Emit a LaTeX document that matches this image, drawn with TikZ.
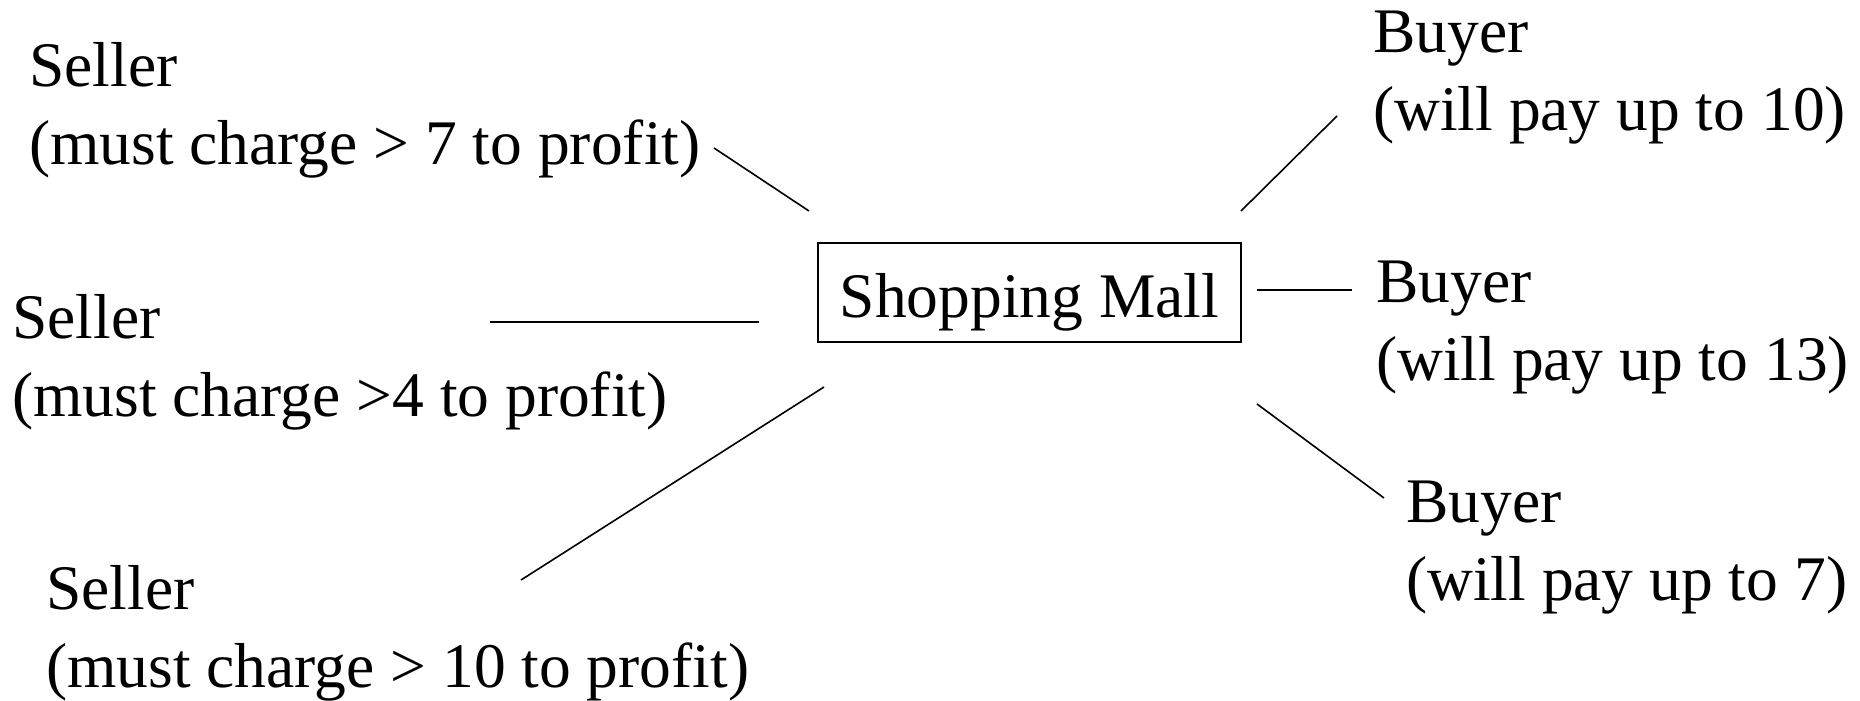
\documentclass[tikz,border=0pt]{standalone}
\usepackage{fontspec}
\setmainfont{Liberation Serif}
\begin{document}
\begin{tikzpicture}[x=1pt,y=-1pt,
  lbl/.style={anchor=base west,inner sep=0pt,align=left,font=\fontsize{63.5}{77.5}\selectfont},
  conn/.style={line width=1.6pt},
  mall/.style={draw,line width=1.8pt,inner xsep=22pt,inner ysep=0pt,text height=74pt,text depth=25pt,font=\fontsize{63.5}{77}\selectfont}]
\useasboundingbox (0,0) rectangle (1860,701);
\node[lbl] (s1) at (29,164) {Seller\\(must charge > 7 to profit)};
\node[lbl] (s2) at (12,416) {Seller\\(must charge >4 to profit)};
\node[lbl] (s3) at (46,687) {Seller\\(must charge > 10 to profit)};
\node[mall,anchor=base west] (m) at (817,317) {Shopping Mall};
\node[lbl] (b1) at (1373,130) {Buyer\\(will pay up to 10)};
\node[lbl] (b2) at (1376,380) {Buyer\\(will pay up to 13)};
\node[lbl] (b3) at (1406,600) {Buyer\\(will pay up to 7)};
\coordinate (l1a) at (714,148); \coordinate (l1b) at (809,211);
\coordinate (l2a) at (490,322); \coordinate (l2b) at (759,322);
\coordinate (l3a) at (824,387); \coordinate (l3b) at (521,580);
\coordinate (r1a) at (1241,211); \coordinate (r1b) at (1337,116);
\coordinate (r2a) at (1257,290); \coordinate (r2b) at (1352,290);
\coordinate (r3a) at (1257,404); \coordinate (r3b) at (1384,498);
\draw[conn] (l1a) -- (l1b);
\draw[conn] (l2a) -- (l2b);
\draw[conn] (l3a) -- (l3b);
\draw[conn] (r1a) -- (r1b);
\draw[conn] (r2a) -- (r2b);
\draw[conn] (r3a) -- (r3b);
\end{tikzpicture}
\end{document}
